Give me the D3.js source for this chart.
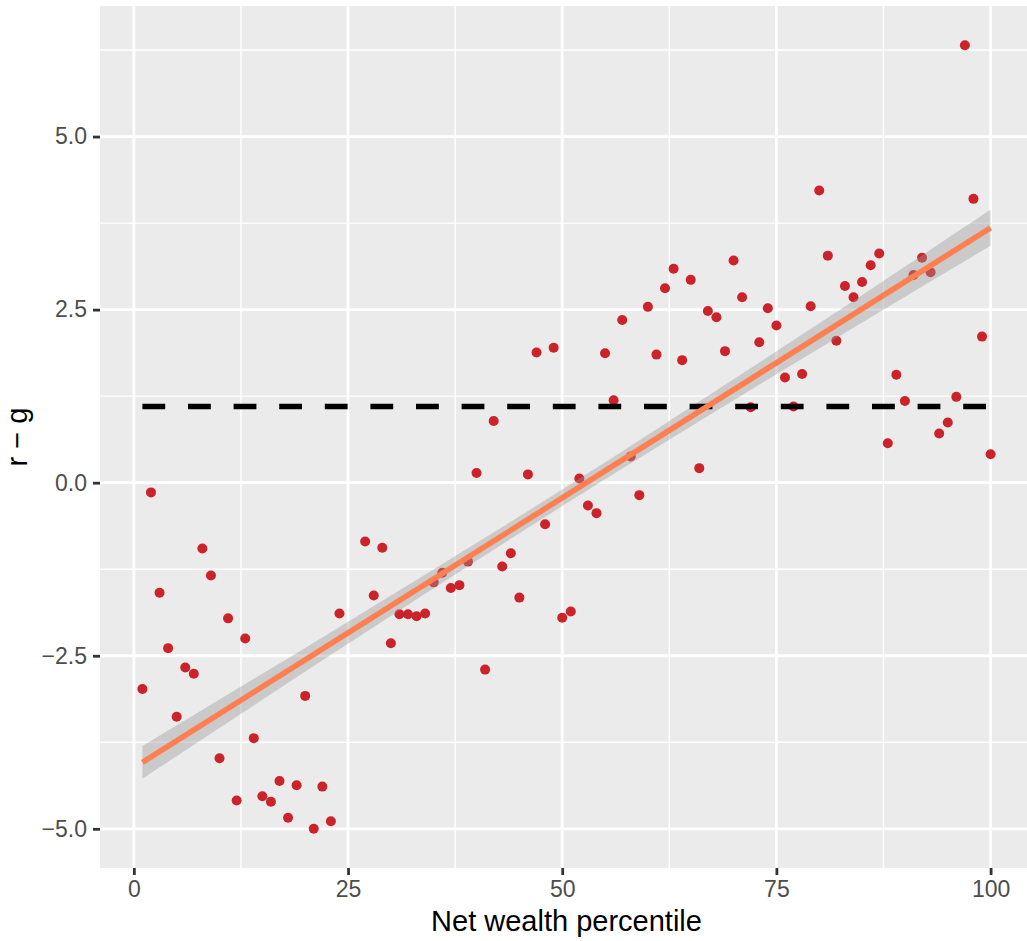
<!DOCTYPE html>
<html lang="en">
	<head>
		<meta charset="utf-8">
		<title>r - g by net wealth percentile</title>
		<script type="text/javascript" src="https://cdn.jsdelivr.net/npm/d3@7"></script>
		<style>
			body { margin: 0; background: #fff; }
			text { font-family: "Liberation Sans", Arial, Helvetica, sans-serif; }
		</style>
	</head>
	<body>
		<script type="text/javascript">

			// data (25 and 26 have no point)
			var percentile = [1,2,3,4,5,6,7,8,9,10,11,12,13,14,15,16,17,18,19,20,21,22,23,24,
				27,28,29,30,31,32,33,34,35,36,37,38,39,40,41,42,43,44,45,46,47,48,49,50,
				51,52,53,54,55,56,57,58,59,60,61,62,63,64,65,66,67,68,69,70,71,72,73,74,75,
				76,77,78,79,80,81,82,83,84,85,86,87,88,89,90,91,92,93,94,95,96,97,98,99,100]
			var rMinusG = [-2.98,-0.14,-1.59,-2.39,-3.38,-2.67,-2.76,-0.95,-1.34,-3.98,-1.96,-4.59,-2.25,-3.69,-4.53,-4.61,-4.31,-4.84,-4.37,-3.08,-5.0,-4.39,-4.89,-1.89,
				-0.85,-1.63,-0.94,-2.32,-1.9,-1.9,-1.93,-1.89,-1.44,-1.3,-1.52,-1.48,-1.14,0.14,-2.7,0.89,-1.21,-1.02,-1.66,0.12,1.88,-0.6,1.95,-1.95,
				-1.86,0.06,-0.33,-0.44,1.87,1.19,2.35,0.38,-0.18,2.54,1.85,2.81,3.09,1.77,2.93,0.21,2.48,2.39,1.9,3.21,2.68,1.09,2.03,2.52,2.27,
				1.52,1.1,1.57,2.55,4.22,3.28,2.05,2.84,2.68,2.9,3.14,3.31,0.57,1.56,1.18,3.0,3.25,3.04,0.71,0.87,1.24,6.32,4.1,2.11,0.41]

			// fitted line and its confidence band
			var fitX = [1, 25, 50, 75, 100]
			var fitY = [-4.04, -2.168, -0.218, 1.732, 3.682]
			var bandLo = [-4.275, -2.328, -0.338, 1.567, 3.422]
			var bandHi = [-3.805, -2.008, -0.098, 1.897, 3.942]

			var refLevel = 1.1
			var xTicks = [0, 25, 50, 75, 100]
			var xMinor = [12.5, 37.5, 62.5, 87.5]
			var yTicks = [-5, -2.5, 0, 2.5, 5]
			var yTickLabels = ["\u22125.0", "\u22122.5", "0.0", "2.5", "5.0"]
			var yMinor = [-3.75, -1.25, 1.25, 3.75, 6.25]

			var data = percentile.map(function(p, i) { return {x: p, y: rMinusG[i]} })
			var fit = fitX.map(function(x, i) { return {x: x, y: fitY[i], lo: bandLo[i], hi: bandHi[i]} })

			var w = 1027
			var h = 941
			var panel = {left: 100, right: 1033, top: 6, bottom: 868}

			var svg = d3.select("body").append("svg").attr("width", w).attr("height", h)

			// ggplot style: 5% padding on the data range
			var xExt = d3.extent(percentile)
			var xPad = (xExt[1] - xExt[0]) * 0.05
			var xScale = d3.scaleLinear()
				.domain([xExt[0] - xPad, xExt[1] + xPad])
				.range([panel.left, panel.right])

			var yExt = d3.extent(rMinusG)
			var yPad = (yExt[1] - yExt[0]) * 0.05
			var yScale = d3.scaleLinear()
				.domain([yExt[0] - yPad, yExt[1] + yPad])
				.range([panel.bottom, panel.top])

			// panel background
			svg.append("rect")
				.attr("x", panel.left).attr("y", panel.top)
				.attr("width", panel.right - panel.left).attr("height", panel.bottom - panel.top)
				.attr("fill", "#ebebeb")

			var grid = svg.append("g").attr("stroke", "#fff")
			grid.selectAll(".xminor").data(xMinor).enter().append("line")
				.attr("x1", xScale).attr("x2", xScale)
				.attr("y1", panel.top).attr("y2", panel.bottom)
				.attr("stroke-width", 1.4)
			grid.selectAll(".yminor").data(yMinor).enter().append("line")
				.attr("y1", yScale).attr("y2", yScale)
				.attr("x1", panel.left).attr("x2", panel.right)
				.attr("stroke-width", 1.4)
			grid.selectAll(".xmajor").data(xTicks).enter().append("line")
				.attr("x1", xScale).attr("x2", xScale)
				.attr("y1", panel.top).attr("y2", panel.bottom)
				.attr("stroke-width", 2.8)
			grid.selectAll(".ymajor").data(yTicks).enter().append("line")
				.attr("y1", yScale).attr("y2", yScale)
				.attr("x1", panel.left).attr("x2", panel.right)
				.attr("stroke-width", 2.8)

			// points
			svg.append("g").selectAll("circle")
				.data(data).enter().append("circle")
				.attr("cx", function(d) { return xScale(d.x) })
				.attr("cy", function(d) { return yScale(d.y) })
				.attr("r", 5)
				.attr("fill", "#cc2229")

			// confidence band over the points
			svg.append("path")
				.datum(fit)
				.attr("d", d3.area()
					.curve(d3.curveMonotoneX)
					.x(function(d) { return xScale(d.x) })
					.y0(function(d) { return yScale(d.lo) })
					.y1(function(d) { return yScale(d.hi) }))
				.attr("fill", "#999999")
				.attr("fill-opacity", 0.4)

			// dashed reference level from first to last percentile
			svg.append("line")
				.attr("x1", xScale(xExt[0])).attr("x2", xScale(xExt[1]))
				.attr("y1", yScale(refLevel)).attr("y2", yScale(refLevel))
				.attr("stroke", "#000")
				.attr("stroke-width", 5.6)
				.attr("stroke-dasharray", "22.8,22.8")

			svg.append("path")
				.datum(fit)
				.attr("d", d3.line()
					.x(function(d) { return xScale(d.x) })
					.y(function(d) { return yScale(d.y) }))
				.attr("fill", "none")
				.attr("stroke", "#ff7f50")
				.attr("stroke-width", 5.6)

			// axes
			var xAxis = svg.append("g")
				.attr("transform", "translate(0," + panel.bottom + ")")
				.call(d3.axisBottom(xScale).tickValues(xTicks).tickSize(7).tickPadding(6))
			var yAxis = svg.append("g")
				.attr("transform", "translate(" + panel.left + ",0)")
				.call(d3.axisLeft(yScale).tickValues(yTicks).tickSize(7).tickPadding(6)
					.tickFormat(function(d, i) { return yTickLabels[i] }))

			;[xAxis, yAxis].forEach(function(ax) {
				ax.select(".domain").remove()
				ax.selectAll(".tick line").attr("stroke", "#333").attr("stroke-width", 2.8)
				ax.selectAll(".tick text")
					.attr("fill", "#4d4d4d")
					.style("font-size", "23px")
					.style("font-family", "'Liberation Sans', Arial, sans-serif")
			})

			svg.append("text")
				.attr("x", (panel.left + panel.right) / 2)
				.attr("y", 931)
				.attr("text-anchor", "middle")
				.style("font-size", "29px")
				.attr("fill", "#000")
				.text("Net wealth percentile")

			svg.append("text")
				.attr("transform", "translate(27," + ((panel.top + panel.bottom) / 2) + ") rotate(-90)")
				.attr("text-anchor", "middle")
				.style("font-size", "29px")
				.attr("fill", "#000")
				.text("r \u2212 g")

		</script>
	</body>
</html>
